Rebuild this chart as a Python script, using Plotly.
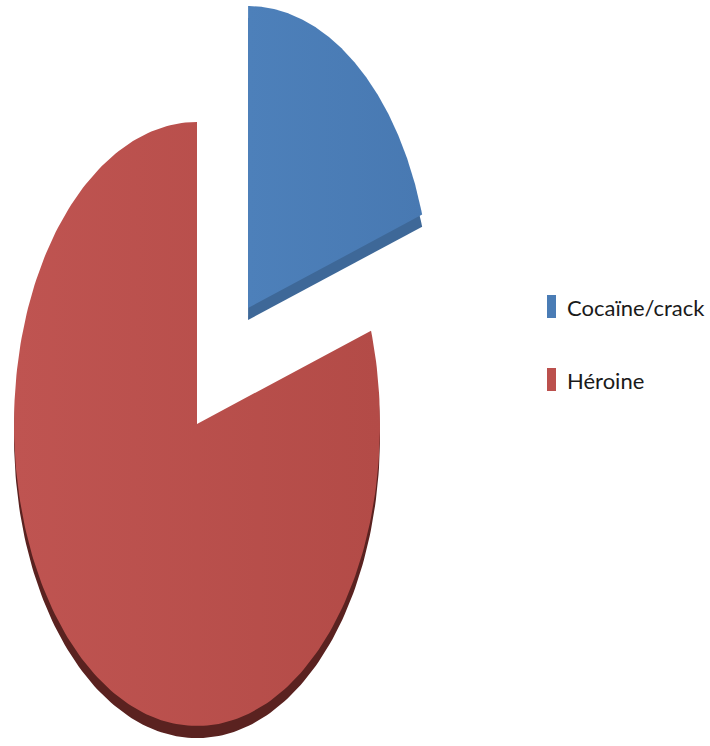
import numpy as np
import plotly.graph_objects as go

# Share of treatment demand by substance
labels = ["Cocaïne/crack", "Héroine"]
values = [20, 80]

face_colors = ["#4a7cb5", "#bb504d"]
face_grad = [["#4d80ba", "#4879b2"], ["#bf5451", "#b34b47"]]
side_colors = ["#3e6898", "#5a2220"]
explode = [0.475, 0.0]
depth = 0.04          # height of the extruded rim, in radius units

W, H = 710, 746
CX_PX, CY_PX = 197, 424   # pie centre in pixels
RX_PX, RY_PX = 183, 302   # horizontal / vertical radius in pixels


def wedge(a0, a1, dx, dy, n=240):
    t = np.linspace(a0, a1, n)
    xs = np.concatenate([[dx], dx + np.sin(t), [dx]])
    ys = np.concatenate([[dy], dy + np.cos(t), [dy]])
    return xs, ys


fig = go.Figure()
total = float(sum(values))
bounds = np.concatenate([[0.0], np.cumsum(values) / total]) * 2 * np.pi

shapes_xy = []
for i, lab in enumerate(labels):
    a0, a1 = bounds[i], bounds[i + 1]
    mid = 0.5 * (a0 + a1)
    dx, dy = explode[i] * np.sin(mid), explode[i] * np.cos(mid)
    shapes_xy.append(wedge(a0, a1, dx, dy))

# extruded sides first, then the top faces
for i, (xs, ys) in enumerate(shapes_xy):
    fig.add_trace(go.Scatter(
        x=xs, y=ys - depth, mode="lines", fill="toself",
        fillcolor=side_colors[i], line=dict(width=0),
        hoverinfo="skip", showlegend=False))
for i, (xs, ys) in enumerate(shapes_xy):
    fig.add_trace(go.Scatter(
        x=xs, y=ys, mode="lines", fill="toself",
        fillgradient=dict(type="horizontal",
                          colorscale=[[0, face_grad[i][0]], [1, face_grad[i][1]]]),
        line=dict(width=0), name=labels[i],
        hovertemplate=f"{labels[i]}: {values[i]}%<extra></extra>",
        showlegend=False))

# legend drawn as swatches and labels
legend_rows = [(295, 318), (368, 391)]
for i, lab in enumerate(labels):
    top, bot = legend_rows[i]
    fig.add_shape(type="rect", xref="paper", yref="paper",
                  x0=547 / W, x1=556 / W, y0=1 - bot / H, y1=1 - top / H,
                  fillcolor=face_colors[i], line=dict(width=0))
    fig.add_annotation(xref="paper", yref="paper", x=565 / W,
                       y=1 - (0.5 * (top + bot) + 1) / H,
                       xanchor="left", yanchor="middle", showarrow=False,
                       text=lab,
                       font=dict(family="Lato, Liberation Sans, sans-serif",
                                 size=22, color="#1a1a1a"))

fig.update_xaxes(range=[-CX_PX / RX_PX, (W - CX_PX) / RX_PX], visible=False, fixedrange=True)
fig.update_yaxes(range=[(CY_PX - H) / RY_PX, CY_PX / RY_PX], visible=False, fixedrange=True)
fig.update_layout(width=W, height=H, margin=dict(l=0, r=0, t=0, b=0),
                  paper_bgcolor="white", plot_bgcolor="white", showlegend=False)

fig.write_html("out.html")
